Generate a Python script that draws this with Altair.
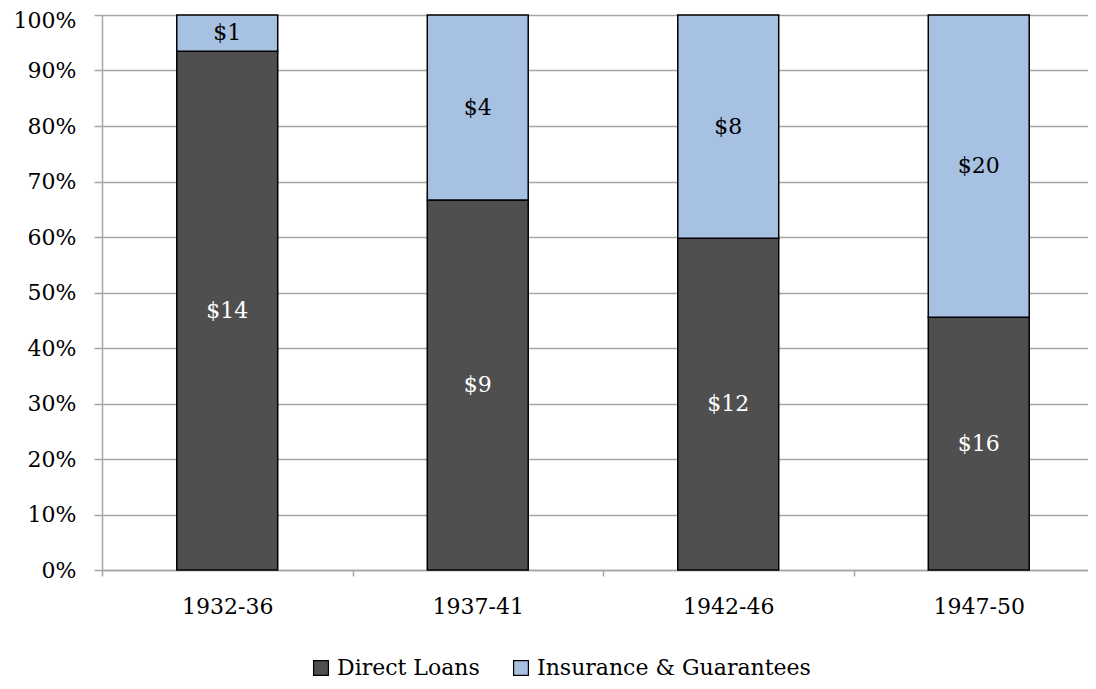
import altair as alt
import pandas as pd

periods = ["1932-36", "1937-41", "1942-46", "1947-50"]
series = ["Direct Loans", "Insurance & Guarantees"]
direct_loans = [14.3, 8.6, 12.0, 16.4]
insurance = [1.0, 4.3, 8.07, 19.6]
y_ticks = [i / 10 for i in range(11)]

rows = []
for p, d, ins in zip(periods, direct_loans, insurance):
    rows.append({"period": p, "series": series[0], "value": d, "order": 0})
    rows.append({"period": p, "series": series[1], "value": ins, "order": 1})
df = pd.DataFrame(rows)

FONT = "DejaVu Serif"
FS = 22
GRID = "#a6a6a6"

base = alt.Chart(df).transform_stack(
    stack="value",
    groupby=["period"],
    as_=["v0", "v1"],
    sort=[alt.SortField("order", order="ascending")],
    offset="normalize",
).transform_calculate(mid="(datum.v0 + datum.v1) / 2")

x_enc = alt.X(
    "period:N",
    sort=periods,
    title=None,
    scale=alt.Scale(range=[0, 1002], paddingInner=0, paddingOuter=0),
    axis=alt.Axis(
        tickBand="extent",
        labelAngle=0,
        labelFont=FONT,
        labelFontSize=FS,
        labelColor="black",
        labelPadding=20,
        tickSize=6,
        tickColor=GRID,
        tickWidth=1.5,
        domainColor=GRID,
        domainWidth=1.5,
        grid=False,
    ),
)

bars = base.mark_bar(stroke="black", strokeWidth=1.5, width=alt.RelativeBandSize(0.403)).encode(
    x=x_enc,
    y=alt.Y(
        "v0:Q",
        title=None,
        scale=alt.Scale(domain=[0, 1], nice=False),
        axis=alt.Axis(
            values=y_ticks,
            format=".0%",
            labelFont=FONT,
            labelFontSize=FS,
            labelColor="black",
            labelPadding=18,
            labelOffset={"condition": {"test": "datum.value >= 1", "value": 5}, "value": 0},
            tickSize=8,
            tickColor=GRID,
            tickWidth=1.5,
            domainColor=GRID,
            domainWidth=1.5,
            gridColor=GRID,
            gridWidth=1.5,
        ),
    ),
    y2="v1:Q",
    color=alt.Color(
        "series:N",
        sort=series,
        scale=alt.Scale(domain=series, range=["#4f4f4f", "#a7c1e2"]),
        legend=alt.Legend(
            title=None,
            orient="none",
            direction="horizontal",
            legendX=208,
            legendY=642,
            symbolType="square",
            symbolSize=220,
            symbolStrokeColor="black",
            symbolStrokeWidth=1.2,
            labelFont=FONT,
            labelFontSize=FS,
            labelColor="black",
            labelLimit=500,
            columnPadding=30,
            labelOffset=5,
        ),
    ),
)

labels = base.mark_text(font=FONT, fontSize=FS, baseline="middle").encode(
    x=alt.X("period:N", sort=periods),
    y=alt.Y("mid:Q"),
    text=alt.Text("value:Q", format="$.0f"),
    color=alt.condition(alt.datum.series == "Direct Loans", alt.value("white"), alt.value("black")),
)

chart = (
    alt.layer(bars, labels)
    .properties(
        width=986,
        height=555,
        autosize=alt.AutoSizeParams(type="none"),
        padding={"left": 94, "top": 7, "right": 0, "bottom": 111},
    )
    .configure_view(stroke=None)
    .configure(background="white")
)

chart.save("out.html", embed_options={"renderer": "svg", "actions": False})
